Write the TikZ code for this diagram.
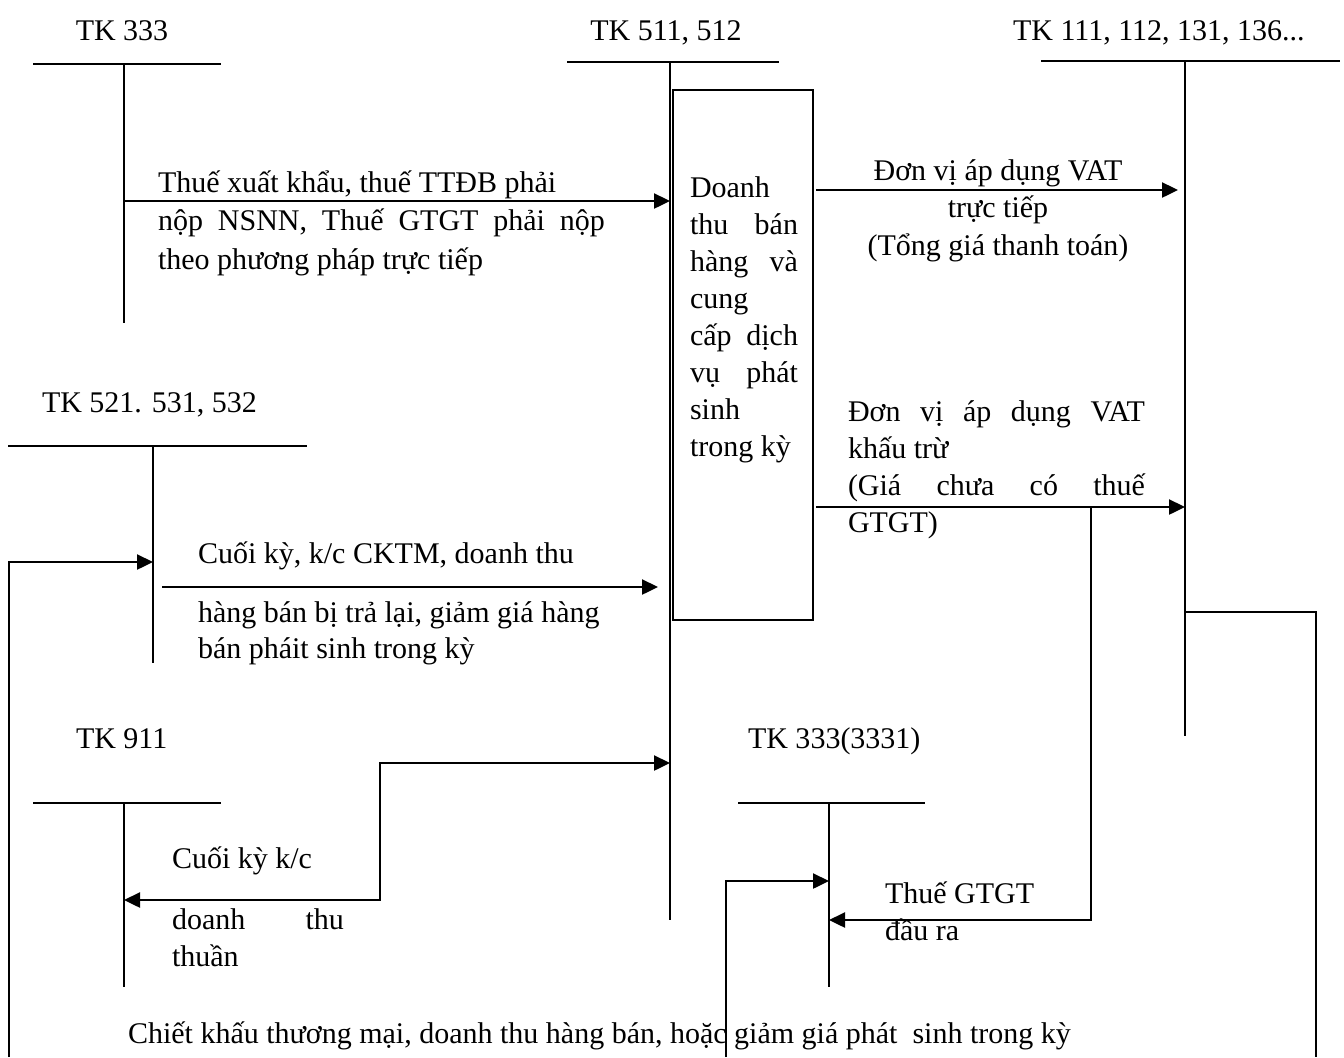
\documentclass[tikz,border=0pt]{standalone}
\usepackage{fontspec}
\setmainfont{Liberation Serif}
\usepackage{tikz}
\usetikzlibrary{arrows.meta,calc}

\newcommand{\spreadln}[2]{\makebox[#1][s]{#2}}

\begin{document}
\begin{tikzpicture}[x=0.5pt,y=-0.5pt,
    every node/.style={inner sep=0pt,outer sep=0pt,font=\fontsize{15}{18.5}\selectfont},
    tline/.style={line width=0.8pt},
    flow/.style={line width=1.2pt,-{Triangle[length=8pt,width=7.5pt]}},
    plain/.style={line width=1.2pt},
    txt/.style={anchor=base west,align=left}]
    \useasboundingbox (0,0) rectangle (1344,1057);

    % T accounts
    \node[anchor=base] (t333) at (122,40) {TK 333};
    \draw[tline] (33,64) -- (221,64);
    \coordinate (a333) at (124,64);
    \draw[tline] (a333) -- (124,323);

    \node[anchor=base] (t511) at (666,40) {TK 511, 512};
    \draw[tline] (567,62) -- (779,62);
    \coordinate (a511) at (670,62);
    \draw[tline] (a511) -- (670,920);

    \node[anchor=base west] (t111) at (1013,40) {TK 111, 112, 131, 136...};
    \draw[tline] (1041,61) -- (1340,61);
    \coordinate (a111) at (1185,61);
    \draw[tline] (a111) -- (1185,736);

    \node[anchor=base west] (t521) at (42,412) {TK 521. 531, 532};
    \draw[tline] (8,446) -- (307,446);
    \coordinate (a521) at (153,446);
    \draw[tline] (a521) -- (153,663);

    \node[anchor=base west] (t911) at (76,748) {TK 911};
    \draw[tline] (33,803) -- (221,803);
    \coordinate (a911) at (124,803);
    \draw[tline] (a911) -- (124,987);

    \node[anchor=base west] (t3331) at (748,748) {TK 333(3331)};
    \draw[tline] (738,803) -- (925,803);
    \coordinate (a3331) at (829,803);
    \draw[tline] (a3331) -- (829,987);

    % doanh thu box (last line baseline given)
    \node[draw,line width=1pt,minimum width=70pt,minimum height=265pt,anchor=north west] (dt) at (673,90) {};
    \node[txt] (dttext) at (690,456) {Doanh\\ \spreadln{54pt}{thu bán}\\ \spreadln{54pt}{hàng và}\\ cung\\
        \spreadln{54pt}{cấp dịch}\\ \spreadln{54pt}{vụ phát}\\ sinh\\ trong kỳ};

    % 333 -> 511
    \draw[flow] (a333 |- 0,201) -- (a511 |- 0,201);
    \node[txt,font=\fontsize{15}{19.2}\selectfont] (l333) at (158,269) {Thuế xuất khẩu, thuế TTĐB phải\\
        \spreadln{223.5pt}{nộp NSNN, Thuế GTGT phải nộp}\\ theo phương pháp trực tiếp};

    % 511 -> 111 truc tiep
    \draw[flow] (dt.east |- 0,190) ++(3,0) -- (1178,190);
    \node[anchor=base,align=center,font=\fontsize{15}{18.7}\selectfont] (lvat1) at (998,255) {Đơn vị áp dụng VAT\\ trực tiếp\\ (Tổng giá thanh toán)};

    % 511 -> 111 khau tru
    \coordinate (k1) at ($(dt.east |- 0,507)+(3,0)$);
    \draw[flow] (k1) -- (a111 |- k1);
    \node[txt] (lvat2) at (848,532) {\spreadln{148.5pt}{Đơn vị áp dụng VAT}\\ khấu trừ\\
        \spreadln{148.5pt}{(Giá chưa có thuế}\\ GTGT)};

    % thue GTGT dau ra
    \coordinate (k2) at (1091,507);
    \draw[flow] (k2) -- (1091,920) -- (a3331 |- 0,920);
    \node[txt] (lgtgt) at (885,940) {Thuế GTGT\\ đầu ra};

    % 521 -> 511
    \draw[flow] (162,587) -- (658,587);
    \node[anchor=base west] (l521a) at (198,563) {Cuối kỳ, k/c CKTM, doanh thu};
    \node[txt,font=\fontsize{15}{18}\selectfont] (l521b) at (198,658) {hàng bán bị trả lại, giảm giá hàng\\ bán pháit sinh trong kỳ};

    % 511 -> 911
    \draw[plain,{Triangle[length=8pt,width=7.5pt]}-{Triangle[length=8pt,width=7.5pt]}]
        (a911 |- 0,900) -- (380,900) -- (380,763) -- (a511 |- 0,763);
    \node[anchor=base west] (l911a) at (172,868) {Cuối kỳ k/c};
    \node[txt] (l911b) at (172,966) {\spreadln{86pt}{doanh thu}\\ thuần};

    % chiet khau loop
    \draw[plain] (a111 |- 0,612) -- (1316,612) -- (1316,1057);
    \draw[flow] (9,1057) -- (9,562) -- (a521 |- 0,562);
    \draw[flow] (726,1057) -- (726,881) -- (a3331 |- 0,881);
    \node[anchor=base west] (lck) at (128,1043) {Chiết khấu thương mại, doanh thu hàng bán, hoặc giảm giá phát\ \ sinh trong kỳ};
\end{tikzpicture}
\end{document}
